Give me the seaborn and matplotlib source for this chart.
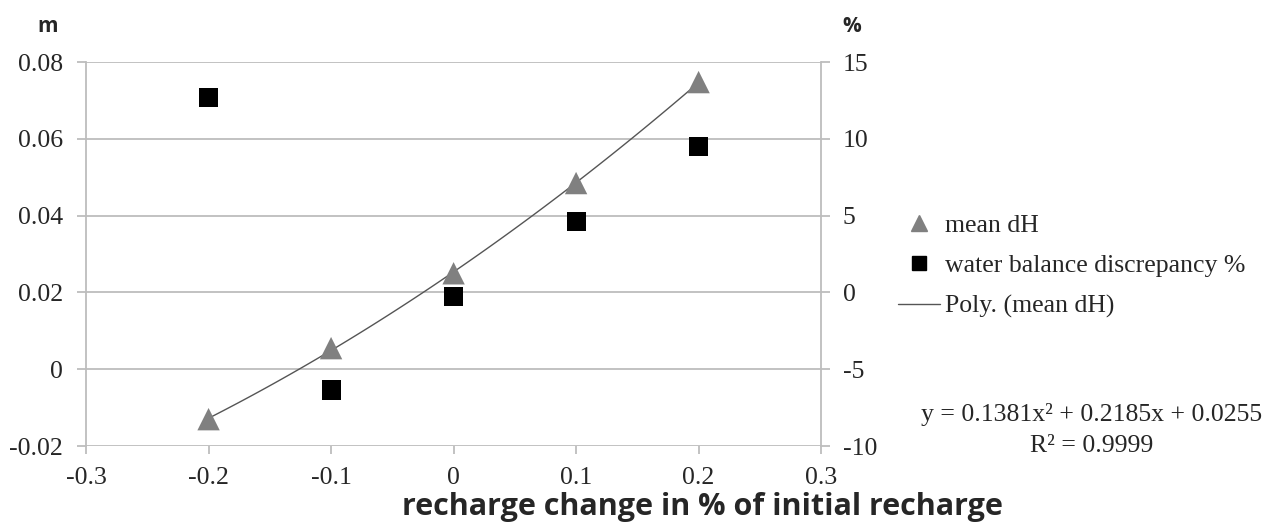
import numpy as np
import pandas as pd
import matplotlib.pyplot as plt
import seaborn as sns
from matplotlib.lines import Line2D

# valores
recharge_change = [-0.2, -0.1, 0.0, 0.1, 0.2]
mean_dh = [-0.013, 0.0055, 0.025, 0.0485, 0.0748]
wb_discrepancy = [12.7, -6.35, -0.25, 4.6, 9.5]
x_ticks = [-0.3, -0.2, -0.1, 0, 0.1, 0.2, 0.3]
left_ticks = [-0.02, 0, 0.02, 0.04, 0.06, 0.08]
right_ticks = [-10, -5, 0, 5, 10, 15]

sns.set_style("white")
plt.rcParams['font.family'] = ['Liberation Serif', 'DejaVu Serif']
plt.rcParams['axes.unicode_minus'] = False

df = pd.DataFrame({'x': recharge_change, 'dh': mean_dh, 'wb': wb_discrepancy})

# ajuste polinómico de grado 2 (línea de tendencia)
coef = np.polyfit(df['x'], df['dh'], 2)
fit_x = np.linspace(min(recharge_change), max(recharge_change), 100)
fit = pd.DataFrame({'x': fit_x, 'y': np.polyval(coef, fit_x)})

fig = plt.figure(figsize=(12.75, 5.31), dpi=100)
ax = fig.add_axes([0.0675, 0.160, 0.5765, 0.723])
ax2 = ax.twinx()

grid_c = '#bdbdbd'
for y in left_ticks:
    ax.axhline(y, color=grid_c, lw=1.3, zorder=0)

sns.lineplot(data=fit, x='x', y='y', ax=ax, color='#555555', lw=1.0, zorder=2)
sns.scatterplot(data=df, x='x', y='dh', ax=ax, marker='^', s=260, color='#808080',
                edgecolor='none', zorder=3)
sns.scatterplot(data=df, x='x', y='wb', ax=ax2, marker='s', s=190, color='black',
                edgecolor='none', zorder=3)

ax.set_xlim(-0.3, 0.3)
ax.set_ylim(-0.02, 0.08)
ax2.set_ylim(-10, 15)
ax.set_xticks(x_ticks)
ax.set_xticklabels([f'{v:g}' for v in x_ticks])
ax.set_yticks(left_ticks)
ax.set_yticklabels([f'{v:g}' if v == 0 else f'{v:.2f}' for v in left_ticks])
ax2.set_yticks(right_ticks)

for a in (ax, ax2):
    for s in a.spines.values():
        s.set_visible(False)
    a.set_ylabel('')
    a.set_xlabel('')
ax.spines['left'].set_visible(True)
ax.spines['left'].set_color(grid_c)
ax.spines['left'].set_linewidth(1.3)
ax2.spines['right'].set_visible(True)
ax2.spines['right'].set_color(grid_c)
ax2.spines['right'].set_linewidth(1.3)

fs = 18.5
ax.tick_params(axis='y', length=6.5, width=1.3, color=grid_c, labelsize=fs, pad=10, left=True)
ax.tick_params(axis='x', length=6, width=1.3, color=grid_c, labelsize=fs, pad=9, bottom=True)
ax2.tick_params(axis='y', length=6.5, width=1.3, color=grid_c, labelsize=fs, pad=9, right=True)

fig.text(0.551, 0.045, 'recharge change in % of initial recharge', fontsize=22,
         fontweight='bold', family='Open Sans', ha='center', va='center')
fig.text(0.037, 0.951, 'm', fontsize=15, fontweight='bold', family='Open Sans',
         ha='center', va='center')
fig.text(0.668, 0.951, '%', fontsize=15, fontweight='bold', family='Open Sans',
         ha='center', va='center')

handles = [
    Line2D([], [], marker='^', color='#808080', ls='none', markersize=11),
    Line2D([], [], marker='s', color='black', ls='none', markersize=10),
    Line2D([], [], color='#555555', lw=1.0),
]
labels = ['mean dH', 'water balance discrepancy %', 'Poly. (mean dH)']
fig.legend(handles, labels, loc='center left', bbox_to_anchor=(0.704, 0.499),
           frameon=False, fontsize=fs, handlelength=1.65, handletextpad=0.2,
           labelspacing=0.68, borderpad=0, borderaxespad=0)

fig.text(0.856, 0.19, 'y = 0.1381x² + 0.2185x + 0.0255\nR² = 0.9999',
         ha='center', va='center', fontsize=fs, linespacing=1.55, multialignment='center')

fig.savefig('out.png', dpi=100)
